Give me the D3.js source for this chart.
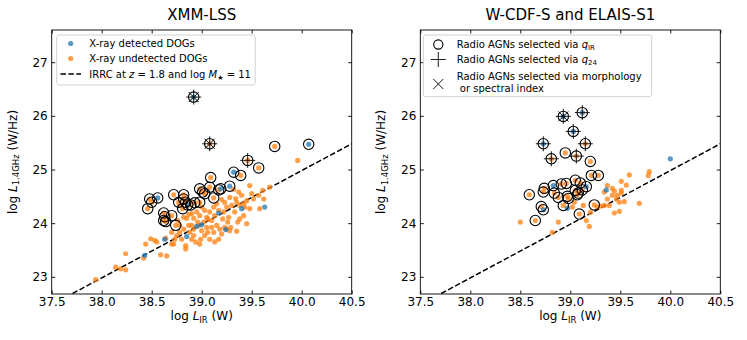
<!DOCTYPE html>
<html><head><meta charset="utf-8">
<script src="https://cdn.jsdelivr.net/npm/d3@7"></script>
<style>body{margin:0;background:#fff}svg{display:block;font-family:"DejaVu Sans",sans-serif}</style>
</head><body><svg id="c" width="747" height="340"></svg>
<script>
// ---------------- data ----------------
const xTicks = [37.5, 38.0, 38.5, 39.0, 39.5, 40.0, 40.5];
const yTicks = [23, 24, 25, 26, 27];
const xDomain = [37.5, 40.5];
const yDomain = [22.68, 27.6];
const irrc = [[37.5, 22.48], [40.5, 25.48]];
const titles = ["XMM-LSS", "W-CDF-S and ELAIS-S1"];
// flags: c = q_IR circle, p = q_24 plus, x = morphology/spectral index cross
const lssDetected = [
 [38.92,26.35,"cpx"],[40.07,25.47,"c"],[39.32,24.95,"c"],[39.28,24.69,"c"],[39.19,24.64,"c"],
 [38.56,24.47,"c"],[38.86,24.34,"c"],
 [38.43,23.40,""],[38.63,23.70,""],[38.85,23.75,""],[38.95,23.94,""],[39.00,23.97,""],
 [39.17,24.19,""],[39.24,23.88,""],[39.40,24.27,""],[39.63,24.30,""]
];
const lssUndetected = [
 [39.08,25.48,"cpx"],[39.46,25.17,"cp"],[39.73,25.43,"c"],[39.57,25.03,"c"],[39.39,24.89,"c"],
 [39.09,24.85,"c"],[39.17,24.62,"c"],[39.08,24.67,"c"],[38.98,24.64,"c"],[39.01,24.58,"c"],
 [39.03,24.55,"c"],[39.12,24.47,"c"],[38.48,24.45,"c"],[38.50,24.39,"c"],[38.46,24.27,"c"],
 [38.72,24.53,"c"],[38.77,24.39,"c"],[38.82,24.53,"c"],[38.82,24.45,"c"],[38.84,24.39,"c"],
 [38.89,24.34,"c"],[38.93,24.38,"c"],[38.98,24.39,"c"],[38.81,24.27,"c"],[38.62,24.19,"c"],
 [38.63,24.12,"c"],[38.64,24.03,"c"],[38.62,24.05,"c"],[38.70,24.14,"c"],[38.74,23.96,"c"],
 [39.96,25.17,""],[37.94,22.95,""],[38.14,23.18,""],[38.19,23.15,""],[38.24,23.13,""],
 [38.24,23.43,""],[38.42,23.35,""],[38.59,23.41,""],[38.65,23.39,""],[38.44,23.61,""],
 [38.49,23.71,""],[38.53,23.68,""],[38.55,23.65,""],[38.64,23.72,""],[38.70,23.83,""],
 [38.70,23.61,""],[38.73,23.70,""],[38.75,23.77,""],[38.78,23.83,""],[38.80,23.70,""],
 [38.82,23.89,""],[38.84,23.58,""],[38.84,23.52,""],[38.87,23.96,""],[38.88,23.83,""],
 [38.90,23.70,""],[38.92,23.77,""],[38.94,23.65,""],[38.97,23.96,""],[38.98,23.61,""],
 [39.00,23.86,""],[39.02,24.02,""],[39.03,23.77,""],[39.05,23.92,""],[39.06,24.08,""],
 [39.08,23.70,""],[39.10,23.92,""],[39.12,23.83,""],[39.13,24.14,""],[39.15,23.96,""],
 [39.17,23.70,""],[39.18,23.89,""],[39.20,24.44,""],[39.21,24.08,""],[39.22,24.21,""],
 [39.23,23.92,""],[39.25,24.30,""],[39.27,24.11,""],[39.28,24.48,""],[39.29,23.92,""],
 [39.32,24.63,""],[39.33,24.21,""],[39.35,24.39,""],[39.36,24.02,""],[39.37,24.58,""],
 [39.38,24.33,""],[39.40,24.52,""],[39.42,24.14,""],[39.43,24.30,""],[39.45,24.42,""],
 [39.48,24.70,""],[39.48,24.27,""],[39.52,24.45,""],[39.57,24.52,""],[39.58,24.27,""],
 [39.61,24.61,""],[39.68,24.67,""],[39.62,24.45,""],[39.35,23.85,""],[38.78,24.33,""],
 [38.82,24.11,""],[38.85,24.09,""],[38.90,24.18,""],[38.95,24.21,""],[38.92,24.09,""],
 [38.98,24.14,""],[39.03,24.24,""],[39.08,24.21,""],[39.12,24.30,""],[39.17,24.24,""],
 [39.05,24.11,""],[38.78,23.96,""],[38.72,23.61,""],[38.92,23.89,""],[38.99,23.70,""],
 [39.20,23.80,""],[39.13,23.65,""],[38.90,23.96,""],[39.06,23.83,""],[39.25,23.89,""],
 [39.30,24.33,""],[39.23,24.39,""],[39.38,24.08,""],[39.45,23.99,""],[39.28,23.86,""],
 [38.96,24.02,""],[39.10,24.05,""],[39.15,24.36,""],[39.00,24.30,""],[38.87,24.16,""],
 [38.76,24.05,""],[39.26,24.02,""],[39.34,24.46,""],[39.42,24.37,""],[39.50,24.55,""]
];
const wcdfsDetected = [
 [38.93,25.99,"cpx"],[39.12,26.06,"cp"],[39.03,25.71,"cp"],[38.73,25.48,"cp"],
 [38.83,24.70,"c"],[39.16,24.68,"c"],[38.73,24.25,"c"],
 [38.97,24.28,""],[39.36,24.62,""],[40.00,25.20,""]
];
const wcdfsUndetected = [
 [39.15,25.48,"cp"],[38.81,25.20,"cp"],[39.06,25.25,"cp"],[38.95,25.31,"c"],[39.20,25.15,"c"],
 [39.21,24.89,"c"],[39.28,24.89,"c"],[39.05,24.80,"c"],[39.10,24.75,"c"],[38.91,24.73,"c"],
 [38.96,24.74,"c"],[38.74,24.65,"c"],[38.73,24.58,"c"],[38.59,24.53,"c"],[38.84,24.56,"c"],
 [38.88,24.48,"c"],[38.97,24.50,"c"],[38.98,24.46,"c"],[39.05,24.61,"c"],[39.07,24.53,"c"],
 [39.08,24.56,"c"],[39.12,24.62,"c"],[38.93,24.33,"c"],[38.71,24.31,"c"],[39.24,24.34,"c"],
 [39.09,24.17,"c"],[38.65,24.05,"c"],
 [38.50,24.02,""],[38.82,23.83,""],[38.88,24.02,""],[39.02,24.30,""],[39.04,24.39,""],
 [39.13,24.33,""],[39.16,24.05,""],[39.19,23.94,""],[39.20,24.20,""],[39.27,24.30,""],
 [39.31,24.32,""],[39.34,24.33,""],[39.37,24.70,""],[39.34,24.58,""],[39.37,24.45,""],
 [39.42,24.65,""],[39.44,24.60,""],[39.42,24.52,""],[39.46,24.45,""],[39.47,24.52,""],
 [39.39,24.33,""],[39.44,24.19,""],[39.49,24.39,""],[39.51,24.61,""],[39.51,24.78,""],
 [39.56,24.71,""],[39.59,24.90,""],[39.51,24.56,""],[39.54,24.40,""],[39.49,24.22,""],
 [39.69,24.37,""],[39.78,24.89,""],[39.79,24.96,""]
];
const legendLeft = ["X-ray detected DOGs", "X-ray undetected DOGs"];
const legendRight = ["Radio AGNs selected via ", "Radio AGNs selected via ", "Radio AGNs selected via morphology", " or spectral index"];

// ---------------- drawing ----------------
const svg = d3.select("#c");
const BLUE = "#1f77b4", ORANGE = "#ff7f0e";
const panels = [
  {x0: 51.7, det: lssDetected, und: lssUndetected, title: titles[0]},
  {x0: 420.3, det: wcdfsDetected, und: wcdfsUndetected, title: titles[1]}
];
const W = 300, yTop = 30, yBot = 294;

panels.forEach((p, i) => {
  const x = d3.scaleLinear().domain(xDomain).range([p.x0, p.x0 + W]);
  const y = d3.scaleLinear().domain(yDomain).range([yBot, yTop]);
  const g = svg.append("g");
  const clipId = "clip" + i;
  svg.append("clipPath").attr("id", clipId).append("rect")
    .attr("x", p.x0).attr("y", yTop).attr("width", W).attr("height", yBot - yTop);
  const plot = g.append("g").attr("clip-path", `url(#${clipId})`);

  plot.append("line")
    .attr("x1", x(irrc[0][0])).attr("y1", y(irrc[0][1]))
    .attr("x2", x(irrc[1][0])).attr("y2", y(irrc[1][1]))
    .attr("stroke", "#000").attr("stroke-width", 1.5).attr("stroke-dasharray", "5.5,2.4");

  const drawDots = (data, col) => plot.append("g").selectAll("circle").data(data).join("circle")
    .attr("cx", d => x(d[0])).attr("cy", d => y(d[1])).attr("r", 2.6)
    .attr("fill", col).attr("fill-opacity", 0.75);
  drawDots(p.und, ORANGE);
  drawDots(p.det, BLUE);
  const all = p.det.concat(p.und);
  plot.append("g").selectAll("circle").data(all.filter(d => d[2].includes("c"))).join("circle")
    .attr("cx", d => x(d[0])).attr("cy", d => y(d[1])).attr("r", 5.2)
    .attr("fill", "none").attr("stroke", "#000").attr("stroke-width", 1.1);
  const pg = plot.append("g").attr("stroke", "#000").attr("stroke-width", 0.9);
  pg.selectAll("path.p").data(all.filter(d => d[2].includes("p"))).join("path").attr("class", "p")
    .attr("d", d => { const cx = x(d[0]), cy = y(d[1]), a = 7.5;
      return `M${cx - a},${cy}H${cx + a}M${cx},${cy - a}V${cy + a}`; });
  pg.selectAll("path.x").data(all.filter(d => d[2].includes("x"))).join("path").attr("class", "x")
    .attr("d", d => { const cx = x(d[0]), cy = y(d[1]), a = 5;
      return `M${cx - a},${cy - a}L${cx + a},${cy + a}M${cx - a},${cy + a}L${cx + a},${cy - a}`; });

  const fmt = d3.format(".1f");
  const ax = (gen, tr) => {
    const a = g.append("g").attr("transform", tr).call(gen);
    a.select(".domain").remove();
    a.selectAll("line").attr("stroke", "#000").attr("stroke-width", 0.9);
    a.selectAll("text").attr("font-size", 12).attr("fill", "#000").attr("font-family", "DejaVu Sans");
    return a;
  };
  ax(d3.axisBottom(x).tickValues(xTicks).tickFormat(fmt).tickSizeInner(-3.5).tickSizeOuter(0).tickPadding(3), `translate(0,${yBot})`);
  ax(d3.axisTop(x).tickValues(xTicks).tickFormat("").tickSizeInner(-3.5).tickSizeOuter(0), `translate(0,${yTop})`);
  ax(d3.axisLeft(y).tickValues(yTicks).tickFormat(d3.format("d")).tickSizeInner(-3.5).tickSizeOuter(0).tickPadding(4), `translate(${p.x0},0)`);
  ax(d3.axisRight(y).tickValues(yTicks).tickFormat("").tickSizeInner(-3.5).tickSizeOuter(0), `translate(${p.x0 + W},0)`);
  g.append("rect").attr("x", p.x0).attr("y", yTop).attr("width", W).attr("height", yBot - yTop)
    .attr("fill", "none").attr("stroke", "#000").attr("stroke-width", 0.9);

  g.append("text").attr("x", p.x0 + W / 2).attr("y", 20).attr("text-anchor", "middle")
    .attr("font-size", 15).text(p.title);
  const xl = g.append("text").attr("x", p.x0 + W / 2).attr("y", 320).attr("text-anchor", "middle").attr("font-size", 12);
  xl.append("tspan").text("log ");
  xl.append("tspan").attr("font-style", "italic").text("L");
  xl.append("tspan").attr("font-size", 8.5).attr("dy", 2.5).text("IR");
  xl.append("tspan").attr("dy", -2.5).text(" (W)");
  const yl = g.append("text").attr("transform", `translate(${p.x0 - 35},${(yTop + yBot) / 2}) rotate(-90)`)
    .attr("text-anchor", "middle").attr("font-size", 12);
  yl.append("tspan").text("log ");
  yl.append("tspan").attr("font-style", "italic").text("L");
  yl.append("tspan").attr("font-size", 8.5).attr("dy", 2.5).text("1.4GHz");
  yl.append("tspan").attr("dy", -2.5).text(" (W/Hz)");
});

{
  const lg = svg.append("g");
  lg.append("rect").attr("x", 56.7).attr("y", 35).attr("width", 198.5).attr("height", 50).attr("rx", 2.5)
    .attr("fill", "#fff").attr("fill-opacity", 0.8).attr("stroke", "#ccc").attr("stroke-width", 0.9);
  const ys = [43.5, 58.5, 74];
  lg.append("circle").attr("cx", 70.7).attr("cy", ys[0]).attr("r", 2.6).attr("fill", BLUE).attr("fill-opacity", 0.75);
  lg.append("circle").attr("cx", 70.7).attr("cy", ys[1]).attr("r", 2.6).attr("fill", ORANGE).attr("fill-opacity", 0.75);
  lg.append("line").attr("x1", 60.5).attr("x2", 81).attr("y1", ys[2]).attr("y2", ys[2])
    .attr("stroke", "#000").attr("stroke-width", 1.5).attr("stroke-dasharray", "5.5,2.4");
  legendLeft.forEach((t, k) => lg.append("text").attr("x", 89.3).attr("y", ys[k] + 3.6).attr("font-size", 10).text(t));
  const t3 = lg.append("text").attr("x", 89.3).attr("y", ys[2] + 3.6).attr("font-size", 10);
  t3.append("tspan").text("IRRC at ");
  t3.append("tspan").attr("font-style", "italic").text("z");
  t3.append("tspan").text(" = 1.8 and log ");
  t3.append("tspan").attr("font-style", "italic").text("M");
  t3.append("tspan").attr("font-size", 7).attr("dy", 2).text("★");
  t3.append("tspan").attr("dy", -2).text(" = 11");
}
{
  const lg = svg.append("g");
  lg.append("rect").attr("x", 423.3).attr("y", 35).attr("width", 228.4).attr("height", 61.7).attr("rx", 2.5)
    .attr("fill", "#fff").attr("fill-opacity", 0.8).attr("stroke", "#ccc").attr("stroke-width", 0.9);
  const mx = 438.3, tx = 456.7;
  lg.append("circle").attr("cx", mx).attr("cy", 44.5).attr("r", 4.6).attr("fill", "none").attr("stroke", "#000").attr("stroke-width", 1.1);
  lg.append("path").attr("d", `M${mx - 7.5},59.5H${mx + 7.5}M${mx},52V67`).attr("stroke", "#000").attr("stroke-width", 0.9);
  lg.append("path").attr("d", `M${mx - 5},${84 - 5}L${mx + 5},${84 + 5}M${mx - 5},${84 + 5}L${mx + 5},${84 - 5}`).attr("stroke", "#000").attr("stroke-width", 0.9);
  const sub = ["IR", "24"];
  [44.5, 59.5].forEach((yy, k) => {
    const t = lg.append("text").attr("x", tx).attr("y", yy + 3.6).attr("font-size", 10);
    t.append("tspan").text(legendRight[k]);
    t.append("tspan").attr("font-style", "italic").text("q");
    t.append("tspan").attr("font-size", 7).attr("dy", 2).text(sub[k]);
  });
  lg.append("text").attr("x", tx).attr("y", 76.5 + 3.6).attr("font-size", 10).text(legendRight[2]);
  lg.append("text").attr("x", tx).attr("y", 88 + 3.6).attr("font-size", 10).style("white-space", "pre").text(legendRight[3]);
}
</script></body></html>
